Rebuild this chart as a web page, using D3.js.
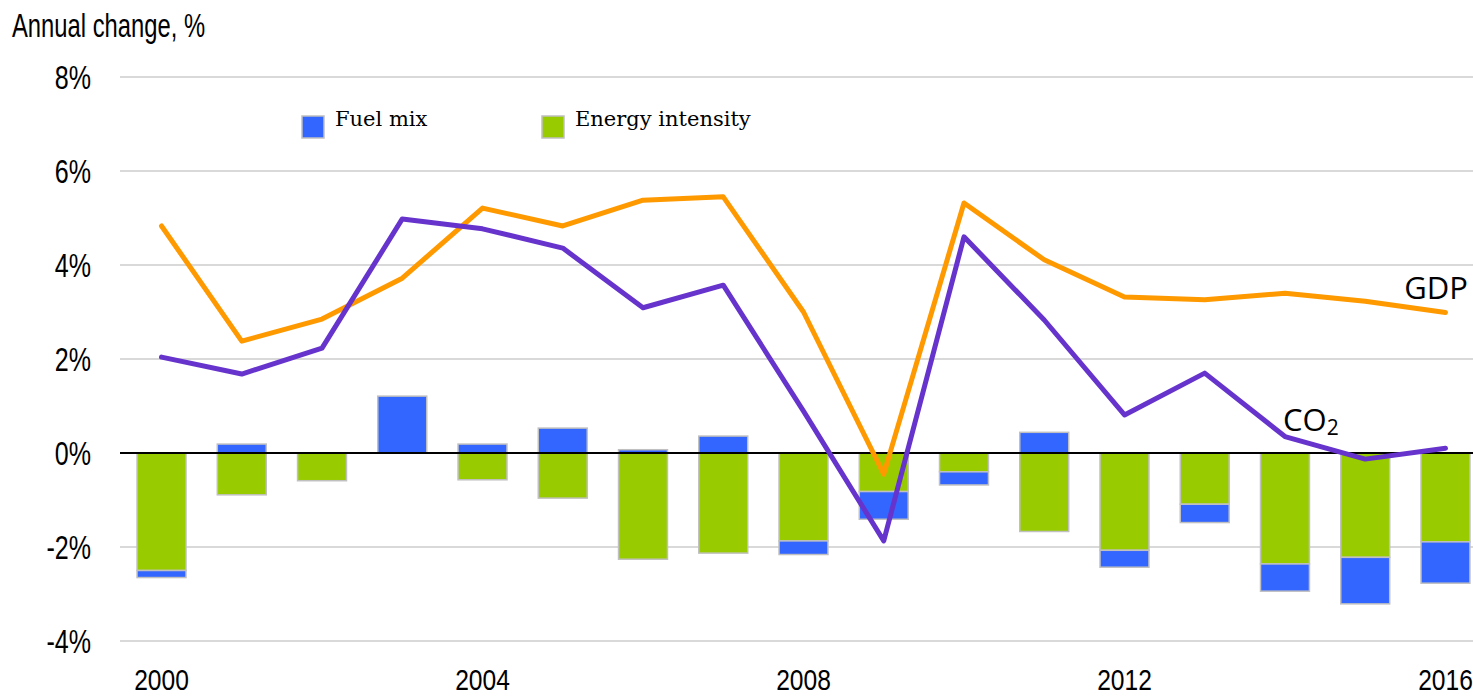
<!DOCTYPE html>
<html>
<head>
<meta charset="utf-8">
<script src="https://cdn.jsdelivr.net/npm/d3@7"></script>
<style>
  body { margin: 0; background: #fff; }
  .cond { font-family: "Liberation Sans", Arial, sans-serif; }
</style>
</head>
<body>
<svg id="chart" width="1473" height="698"></svg>
<script>
'use strict';

var years = [2000, 2001, 2002, 2003, 2004, 2005, 2006, 2007, 2008,
             2009, 2010, 2011, 2012, 2013, 2014, 2015, 2016];
var energyIntensity = [-2.50, -0.89, -0.59, 0.00, -0.57, -0.96, -2.26, -2.13, -1.87,
                       -0.82, -0.40, -1.67, -2.07, -1.09, -2.36, -2.22, -1.89];
var fuelMix = [-0.15, 0.19, 0.00, 1.21, 0.19, 0.53, 0.07, 0.36, -0.29,
               -0.59, -0.28, 0.44, -0.36, -0.39, -0.58, -0.99, -0.88];
var gdp = [4.83, 2.38, 2.85, 3.72, 5.21, 4.83, 5.38, 5.45, 3.00,
           -0.45, 5.32, 4.11, 3.32, 3.26, 3.40, 3.23, 2.99];
var co2 = [2.04, 1.68, 2.23, 4.98, 4.77, 4.36, 3.09, 3.57, 0.89,
           -1.87, 4.60, 2.83, 0.81, 1.70, 0.35, -0.13, 0.10];
var yTicks = [-4, -2, 0, 2, 4, 6, 8];
var xTickYears = [2000, 2004, 2008, 2012, 2016];

(function () {
  var svg = d3.select('#chart');

  var x = d3.scaleBand()
      .domain(years)
      .range([121.4, 1485.6])
      .paddingInner(0.39)
      .paddingOuter(0.195);
  var y = d3.scaleLinear()
      .domain([-4, 8])
      .range([641, 77]);

  var cx = function(yr) { return x(yr) + x.bandwidth() / 2; };

  // narrow text: drawn at origin and squeezed horizontally
  function condText(sel, px, py, anchor, size, squeeze, txt) {
    return sel.append('text')
      .attr('class', 'cond')
      .attr('transform', 'translate(' + px + ',' + py + ') scale(' + squeeze + ',1)')
      .attr('text-anchor', anchor)
      .attr('font-size', size)
      .text(txt);
  }

  // gridlines
  svg.append('g')
    .selectAll('line')
    .data(yTicks)
    .enter().append('line')
      .attr('x1', 120)
      .attr('x2', 1473)
      .attr('y1', function(d) { return y(d); })
      .attr('y2', function(d) { return y(d); })
      .attr('stroke', '#d9d9d9')
      .attr('stroke-width', 2);

  var yl = svg.append('g');
  yTicks.forEach(function(d) { condText(yl, 91, y(d) + 12, 'end', 33, 0.76, d + '%'); });

  var xl = svg.append('g');
  xTickYears.forEach(function(d) { condText(xl, cx(d), 690, 'middle', 30, 0.82, d); });

  condText(svg, 12, 37, 'start', 34, 0.7, 'Annual change, %');

  // stacked bars
  var rows = years.map(function(yr, i) {
    return { year: yr, ei: energyIntensity[i], fm: fuelMix[i] };
  });
  var stack = d3.stack()
      .keys(['ei', 'fm'])
      .offset(d3.stackOffsetDiverging);
  var colors = { ei: '#99cc00', fm: '#3366ff' };

  svg.append('g')
    .selectAll('g')
    .data(stack(rows))
    .enter().append('g')
      .attr('fill', function(d) { return colors[d.key]; })
    .selectAll('rect')
    .data(function(d) { return d.filter(function(s) { return s[1] !== s[0]; }); })
    .enter().append('rect')
      .attr('x', function(d) { return x(d.data.year); })
      .attr('width', x.bandwidth())
      .attr('y', function(d) { return y(Math.max(d[0], d[1])); })
      .attr('height', function(d) { return Math.abs(y(d[0]) - y(d[1])); })
      .attr('stroke', '#c0c0c0')
      .attr('stroke-width', 1.5);

  // zero line
  svg.append('line')
    .attr('x1', 120)
    .attr('x2', 1473)
    .attr('y1', y(0))
    .attr('y2', y(0))
    .attr('stroke', '#000')
    .attr('stroke-width', 2);

  // lines
  var line = d3.line()
      .x(function(d) { return cx(d.year); })
      .y(function(d) { return y(d.v); });
  var series = [
    { name: 'GDP', values: gdp, color: '#ff9900' },
    { name: 'CO2', values: co2, color: '#6633cc' }
  ];
  svg.append('g')
    .selectAll('path')
    .data(series)
    .enter().append('path')
      .attr('d', function(s) {
        return line(years.map(function(yr, i) { return { year: yr, v: s.values[i] }; }));
      })
      .attr('fill', 'none')
      .attr('stroke', function(s) { return s.color; })
      .attr('stroke-width', 5)
      .attr('stroke-linejoin', 'round')
      .attr('stroke-linecap', 'round');

  svg.append('text')
    .attr('x', 1468)
    .attr('y', 299)
    .attr('text-anchor', 'end')
    .attr('font-family', '"Open Sans", sans-serif')
    .attr('font-size', 31)
    .text('GDP');

  var co2Label = svg.append('text')
    .attr('x', 1283)
    .attr('y', 431)
    .attr('font-family', '"Open Sans", sans-serif')
    .attr('font-size', 31);
  co2Label.append('tspan').text('CO');
  co2Label.append('tspan').attr('font-size', 21).attr('dy', 4).text('2');

  // legend
  var legend = [
    { label: 'Fuel mix', color: '#3366ff', x: 302 },
    { label: 'Energy intensity', color: '#99cc00', x: 542 }
  ];
  var lg = svg.append('g')
    .selectAll('g')
    .data(legend)
    .enter().append('g')
      .attr('transform', function(d) { return 'translate(' + d.x + ',116)'; });
  lg.append('rect')
    .attr('width', 22)
    .attr('height', 22)
    .attr('fill', function(d) { return d.color; })
    .attr('stroke', '#c0c0c0')
    .attr('stroke-width', 1.5);
  lg.append('text')
    .attr('x', 33)
    .attr('y', 10)
    .attr('font-family', '"DejaVu Serif", "Liberation Serif", serif')
    .attr('font-size', 21)
    .text(function(d) { return d.label; });
})();
</script>
</body>
</html>
